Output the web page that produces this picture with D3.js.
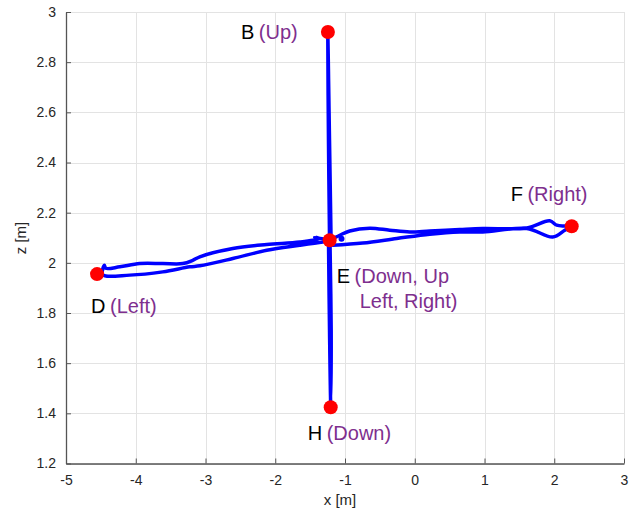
<!DOCTYPE html>
<html>
<head>
<meta charset="utf-8">
<script src="https://cdn.jsdelivr.net/npm/d3@7"></script>
<style>
  body { margin: 0; background: #fff; }
  svg text { font-family: "Liberation Sans", Arial, Helvetica, sans-serif; }
</style>
</head>
<body>
<svg id="chart" width="635" height="514"></svg>
<script>
// tick values
var xTicks = [-5, -4, -3, -2, -1, 0, 1, 2, 3];
var zTicks = [1.2, 1.4, 1.6, 1.8, 2, 2.2, 2.4, 2.6, 2.8, 3];

// trajectory pieces, [x, z] in metres
var trajUp = [[-1.200, 2.098], [-1.222, 2.489], [-1.247, 2.920], [-1.237, 2.489], [-1.222, 2.098]];
var trajDown = [[-1.215, 2.082], [-1.198, 1.731], [-1.204, 1.432], [-1.222, 1.731], [-1.236, 2.070]];
var trajLeft = [[-1.219, 2.090], [-1.434, 2.103], [-1.362, 2.097], [-1.649, 2.083], [-2.122, 2.073],
  [-2.609, 2.057], [-3.082, 2.024], [-3.183, 2.010], [-3.326, 1.997], [-3.613, 1.997],
  [-3.943, 1.997], [-4.229, 1.984], [-4.430, 1.978], [-4.450, 1.990], [-4.473, 1.953],
  [-4.085, 1.951], [-3.613, 1.964], [-3.226, 1.984], [-3.082, 1.988], [-2.609, 2.017],
  [-2.122, 2.050], [-1.649, 2.070], [-1.319, 2.083], [-1.219, 2.086]];
var trajRight = [[-1.219, 2.090], [-1.075, 2.110], [-0.932, 2.127], [-0.645, 2.138], [-0.358, 2.130],
  [-0.072, 2.123], [0.215, 2.127], [0.645, 2.133], [0.975, 2.137], [1.606, 2.139],
  [1.935, 2.168], [2.036, 2.150], [2.151, 2.147], [2.251, 2.146],
  [2.151, 2.130], [1.978, 2.103], [1.606, 2.137], [0.975, 2.123], [0.645, 2.123],
  [0.215, 2.114], [-0.258, 2.097], [-0.746, 2.079], [-1.176, 2.070]];
var blob = [[-1.05, 2.096]];

// key points
var pointNames = ["B", "E", "D", "F", "H"];
var pointX = [-1.245, -1.22, -4.555, 2.25, -1.205];
var pointZ = [2.92, 2.09, 1.955, 2.146, 1.424];
var pointDirs = [["(Up)"], ["(Down, Up", "Left, Right)"], ["(Left)"], ["(Right)"], ["(Down)"]];

var svg = d3.select("#chart");
var mLeft = 66, mRight = 624, mTop = 12, mBottom = 463.5;

var x = d3.scaleLinear().domain([-5, 3]).range([mLeft, mRight]);
var z = d3.scaleLinear().domain([1.2, 3]).range([mBottom, mTop]);

// grid
var grid = svg.append("g").attr("stroke", "#e3e3e3").attr("stroke-width", 1);
xTicks.forEach(function(t) {
  var px = Math.round(x(t)) + 0.5;
  grid.append("line").attr("x1", px).attr("x2", px).attr("y1", mTop).attr("y2", mBottom);
});
zTicks.forEach(function(t) {
  var py = Math.round(z(t)) + 0.5;
  grid.append("line").attr("x1", mLeft).attr("x2", mRight).attr("y1", py).attr("y2", py);
});

// axes (ticks pointing inward, like MATLAB)
var xAxis = d3.axisBottom(x).tickValues(xTicks).tickFormat(function(d) { return String(d); })
  .tickSizeInner(-5).tickSizeOuter(0).tickPadding(12);
var zAxis = d3.axisLeft(z).tickValues(zTicks).tickFormat(function(d) { return String(d); })
  .tickSizeInner(-5).tickSizeOuter(0).tickPadding(10);

var gx = svg.append("g").attr("transform", "translate(0," + mBottom + ")").call(xAxis);
var gz = svg.append("g").attr("transform", "translate(" + mLeft + ",0)").call(zAxis);
[gx, gz].forEach(function(g) {
  g.select(".domain").attr("stroke", "#555").attr("stroke-width", 1.3);
  g.selectAll(".tick line").attr("stroke", "#555");
  g.selectAll(".tick text").attr("fill", "#262626").style("font-size", "14px");
});

svg.append("text").attr("x", 340).attr("y", 505).attr("text-anchor", "middle")
  .attr("fill", "#262626").style("font-size", "15px").text("x [m]");
svg.append("text").attr("transform", "translate(26,238) rotate(-90)").attr("text-anchor", "middle")
  .attr("fill", "#262626").style("font-size", "15px").text("z [m]");

// trajectory
var line = d3.line().x(function(d) { return x(d[0]); }).y(function(d) { return z(d[1]); })
  .curve(d3.curveCatmullRom.alpha(0.5));
[trajUp, trajDown, trajLeft, trajRight].forEach(function(tr) {
  svg.append("path").datum(tr).attr("d", line).attr("fill", "none")
    .attr("stroke", "#0000ff").attr("stroke-width", 3.5)
    .attr("stroke-linejoin", "round").attr("stroke-linecap", "round");
});
svg.selectAll("circle.blob").data(blob).enter().append("circle").attr("class", "blob")
  .attr("cx", function(d) { return x(d[0]); }).attr("cy", function(d) { return z(d[1]); })
  .attr("r", 3).attr("fill", "#0000ff");

// markers
svg.selectAll("circle.pt").data(pointNames).enter().append("circle").attr("class", "pt")
  .attr("cx", function(d, i) { return x(pointX[i]); })
  .attr("cy", function(d, i) { return z(pointZ[i]); })
  .attr("r", 7).attr("fill", "#ff0000");

// label placement offsets from marker (px)
var labelOff = { B: [-87, 7], E: [7, 43], D: [-6, 39], F: [-61, -25], H: [-23, 33] };
pointNames.forEach(function(n, i) {
  var px = x(pointX[i]) + labelOff[n][0], py = z(pointZ[i]) + labelOff[n][1];
  var t = svg.append("text").attr("x", px).attr("y", py).style("font-size", "20px");
  t.append("tspan").attr("fill", "#000").text(n);
  t.append("tspan").attr("fill", "#7e2f8e").attr("dx", -1).text(" " + pointDirs[i][0]);
  if (pointDirs[i].length > 1) {
    svg.append("text").attr("x", px + 23).attr("y", py + 25).style("font-size", "20px")
      .attr("fill", "#7e2f8e").text(pointDirs[i][1]);
  }
});
</script>
</body>
</html>
